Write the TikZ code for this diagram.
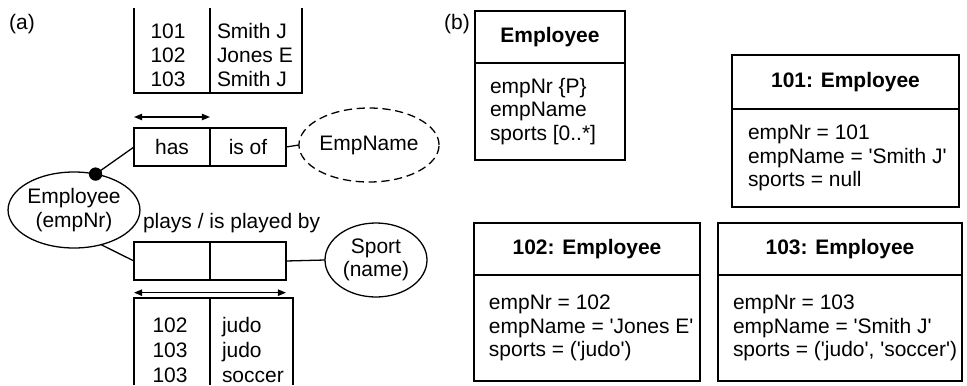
\documentclass[tikz,border=0pt]{standalone}
\usepackage{fontspec}
\setmainfont{Liberation Sans}[Ligatures=TeXOff]
\usetikzlibrary{arrows.meta,positioning,shapes.geometric}

\begin{document}
\begin{tikzpicture}[x=0.03cm,y=-0.03cm,line width=1.1pt,
      >={Triangle[length=7pt,width=5.5pt]},
      every node/.style={font=\fontsize{17.9pt}{20pt}\selectfont,outer sep=0pt},
      fila/.style={inner sep=0pt,text height=14pt,text depth=1.2pt},
      rol/.style={draw,minimum width=2.28cm,minimum height=1.14cm,inner sep=0pt},
      tipo/.style={draw,ellipse,align=center,inner sep=0pt},
      cab/.style={draw,inner sep=0pt,font=\fontsize{17.9pt}{20pt}\selectfont\bfseries},
      cuerpo/.style={draw,inner sep=0pt},
      campo/.style={align=left,anchor=west,inner sep=0pt}]
    \useasboundingbox (0,0) rectangle (967,385);
    % (a) tabla de nombres
    \node[fila] (etqa) at (22,22) {(a)};
    \draw (134,8) -- (134,93) -- (302,93) -- (302,8);
    \draw (210,8) -- (210,93);
    \foreach \y/\nr/\nom in {31/101/Smith J, 55/102/Jones E, 79/103/Smith J}{
      \node[fila] (nr-\y) at (168,\y) {\nr};
      \node[fila,anchor=west] (nom-\y) at (217,\y) {\nom};
    }
    \node[rol] (has) at (172,147) {has};
    \node[rol] (isof) at (248,147) {is of};
    \draw[<->] ([yshift=0.33cm]has.north west) -- ([yshift=0.33cm]has.north east);
    \node[tipo,dash pattern=on 7pt off 4pt,minimum width=3.66cm,minimum height=2.22cm]
      (empname) at (369,145) {EmpName};
    \node[tipo,minimum width=3.66cm,minimum height=2.28cm] (emp) at (74,210) {Employee\\(empNr)};
    \fill (emp.59) circle[radius=0.2cm];
    \draw (emp.59) -- (has.west);
    \draw (isof.east) -- (empname.west);
    % plays / is played by
    \node[fila,anchor=west] (plays) at (143,221) {plays / is played by};
    \node[rol] (pl) at (172,261) {};
    \node[rol] (ipb) at (248,261) {};
    \draw[<->] ([yshift=-0.38cm]pl.south west) -- ([yshift=-0.38cm]ipb.south east);
    \node[tipo,minimum width=3.06cm,minimum height=2.22cm] (sport) at (376,260) {Sport\\(name)};
    \draw (emp.-52) -- (pl.west);
    \draw (ipb.east) -- (sport.west);
    \draw (134,385) -- (134,298) -- (293,298) -- (293,385);
    \draw (210,298) -- (210,385);
    \foreach \y/\nr/\dep in {325/102/judo, 350/103/judo, 375/103/soccer}{
      \node[fila] (nrb-\y) at (170,\y) {\nr};
      \node[fila,anchor=west] (dep-\y) at (222,\y) {\dep};
    }
    % (b) clase y objetos
    \node[fila] (etqb) at (457,22) {(b)};
    \node[cab,minimum width=4.5cm,minimum height=1.56cm] (cls) at (550,37) {Employee};
    \node[cuerpo,minimum width=4.5cm,minimum height=2.91cm,below=0pt of cls] (clsb) {};
    \node[campo] (clst) at ([xshift=0.45cm]clsb.west) {empNr \{P\}\\empName\\sports [0..*]};
    \node[cab,minimum width=6.81cm,minimum height=1.62cm] (o1) at (845.5,82) {101: Employee};
    \node[cuerpo,minimum width=6.81cm,minimum height=2.94cm,below=0pt of o1] (o1b) {};
    \node[campo] (o1t) at ([xshift=0.48cm]o1b.west) {empNr = 101\\empName = 'Smith J'\\sports = null};
    \node[cab,minimum width=6.78cm,minimum height=1.56cm] (o2) at (587,249) {102: Employee};
    \node[cuerpo,minimum width=6.78cm,minimum height=3.18cm,below=0pt of o2] (o2b) {};
    \node[campo] (o2t) at ([xshift=0.45cm]o2b.west) {empNr = 102\\empName = 'Jones E'\\sports = ('judo')};
    \node[cab,minimum width=7.32cm,minimum height=1.56cm] (o3) at (840,249) {103: Employee};
    \node[cuerpo,minimum width=7.32cm,minimum height=3.18cm,below=0pt of o3] (o3b) {};
    \node[campo] (o3t) at ([xshift=0.45cm]o3b.west) {empNr = 103\\empName = 'Smith J'\\sports = ('judo', 'soccer')};
  \end{tikzpicture}
\end{document}
